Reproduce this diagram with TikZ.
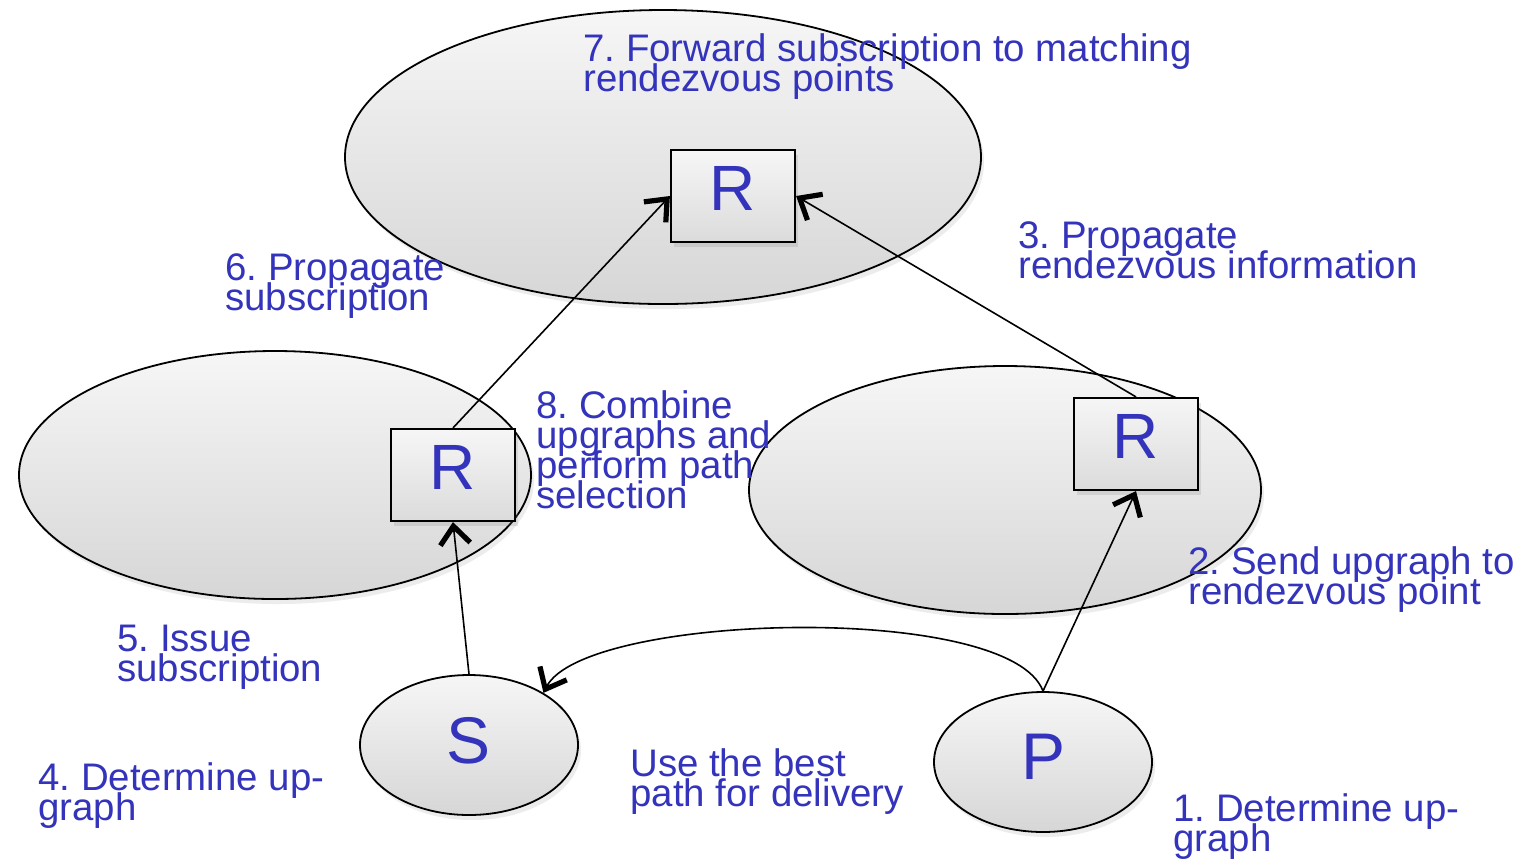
\documentclass[tikz,border=0pt]{standalone}
\usepackage{fontspec}
\setmainfont{Liberation Sans}
\usetikzlibrary{shapes.geometric,arrows.meta,shadows}
\definecolor{txtblue}{RGB}{51,51,187}
\newcommand\lbltext[1]{\vtop{\baselineskip=15pt\lineskiplimit=-\maxdimen\lineskip=0pt\frenchspacing
  \halign{##\hfil\cr#1\crcr}}}
\begin{document}
\begin{tikzpicture}[x=0.5pt,y=-0.5pt,
  blob/.style={ellipse,draw=black,line width=0.9pt,top color=gray!7,bottom color=gray!32,inner sep=0pt,
    drop shadow={opacity=0.15,shadow xshift=1.5pt,shadow yshift=-2.5pt}},
  rbox/.style={rectangle,draw=black,line width=1.1pt,top color=gray!7,bottom color=gray!28,
    minimum width=62pt,minimum height=46pt,inner sep=0pt,text=txtblue,font=\fontsize{32}{32}\selectfont,
    text depth=8pt,
    drop shadow={opacity=0.2,shadow xshift=1.5pt,shadow yshift=-2.5pt}},
  spnode/.style={blob,minimum width=109pt,minimum height=70pt,text=txtblue,font=\fontsize{33}{33}\selectfont,text depth=5pt},
  lbl/.style={anchor=base west,inner sep=0pt,text=txtblue,font=\fontsize{19.2}{15}\selectfont},
  conn/.style={line width=0.8pt,-{Straight Barb[length=9pt,width=15pt,line width=2.6pt]}}
]
\useasboundingbox (0,0) rectangle (1521,859);
\fill[white] (0,0) rectangle (1521,859);

% ellipses
\node[blob,minimum width=318pt,minimum height=147pt] (Etop) at (663,157) {};
\node[blob,minimum width=256pt,minimum height=124pt] (Eleft) at (275,475) {};
\node[blob,minimum width=256pt,minimum height=124pt] (Eright) at (1005,490) {};
\node[spnode] (S) at (469,745) {S};
\node[spnode] (P) at (1043,762) {P};

% router boxes
\node[rbox] (Rtop) at (733,196) {R};
\node[rbox] (Rleft) at (453,475) {R};
\node[rbox] (Rright) at (1136,444) {R};

% connectors
\draw[conn] (S.north) -- (Rleft.south);
\draw[conn] (Rleft.north) -- (Rtop.west);
\draw[conn] (Rright.north) -- (Rtop.east);
\draw[conn] (P.north) -- (Rright.south);
\draw[conn] (P.north) .. controls +(-33,-90) and +(40,-80) .. (S.35);

% labels
\node[lbl] (t7) at (583,61) {\lbltext{7. Forward subscription to matching\cr rendezvous points}};
\node[lbl] (t3) at (1018,248) {\lbltext{3. Propagate\cr rendezvous information}};
\node[lbl] (t6) at (225,280) {\lbltext{6. Propagate\cr subscription}};
\node[lbl] (t8) at (536,418) {\lbltext{8. Combine\cr upgraphs and\cr perform path\cr selection}};
\node[lbl] (t2) at (1188,574) {\lbltext{2. Send upgraph to\cr rendezvous point}};
\node[lbl] (t5) at (117,651) {\lbltext{5. Issue\cr subscription}};
\node[lbl] (t4) at (38,790) {\lbltext{4. Determine up-\cr graph}};
\node[lbl] (tu) at (630,776) {\lbltext{Use the best\cr path for delivery}};
\node[lbl] (t1) at (1173,821) {\lbltext{1. Determine up-\cr graph}};
\end{tikzpicture}
\end{document}
